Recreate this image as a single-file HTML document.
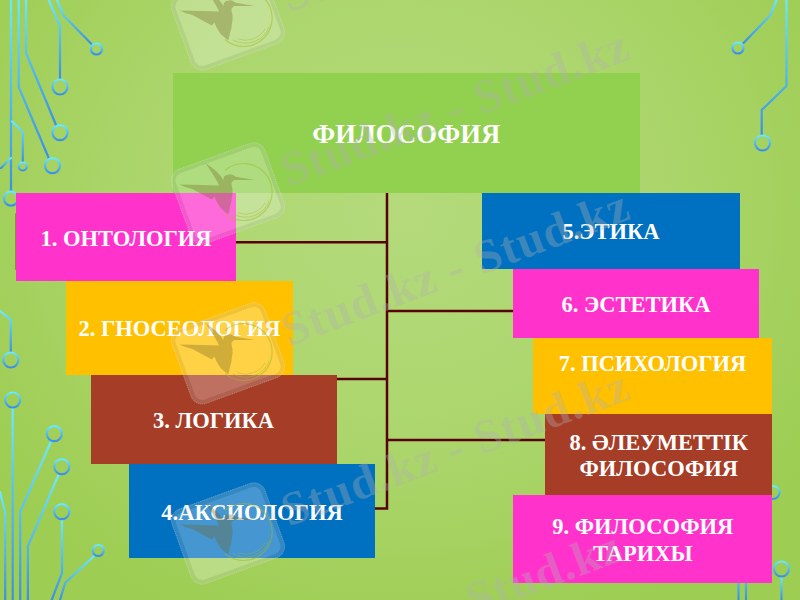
<!DOCTYPE html>
<html><head><meta charset="utf-8">
<style>
html,body{margin:0;padding:0;}
body{width:800px;height:600px;overflow:hidden;position:relative;font-family:"Liberation Serif",serif;
background:radial-gradient(ellipse 62% 75% at 50% 35%, #b4da7c 0%, #acd66d 50%, #9dcd52 100%);}
.b{position:absolute;color:#fff;font-weight:bold;font-size:22.5px;display:flex;align-items:center;justify-content:center;text-align:center;line-height:26.67px;white-space:nowrap;}
svg{position:absolute;left:0;top:0;}
</style></head><body>
<svg id="circ" width="800" height="600" viewBox="0 0 800 600">
<defs>
<linearGradient id="p0" gradientUnits="userSpaceOnUse" x1="0" y1="0" x2="0" y2="191"><stop offset="0" stop-color="#6be9ff"/><stop offset="1" stop-color="#3b8fe6"/></linearGradient>
<linearGradient id="p1" gradientUnits="userSpaceOnUse" x1="0" y1="158" x2="0" y2="168"><stop offset="0" stop-color="#6be9ff"/><stop offset="1" stop-color="#3b8fe6"/></linearGradient>
<linearGradient id="p2" gradientUnits="userSpaceOnUse" x1="0" y1="0" x2="0" y2="158"><stop offset="0" stop-color="#6be9ff"/><stop offset="1" stop-color="#3b8fe6"/></linearGradient>
<linearGradient id="p3" gradientUnits="userSpaceOnUse" x1="0" y1="0" x2="0" y2="125"><stop offset="0" stop-color="#6be9ff"/><stop offset="1" stop-color="#3b8fe6"/></linearGradient>
<linearGradient id="p4" gradientUnits="userSpaceOnUse" x1="0" y1="0" x2="0" y2="78.5"><stop offset="0" stop-color="#6be9ff"/><stop offset="1" stop-color="#3b8fe6"/></linearGradient>
<linearGradient id="p5" gradientUnits="userSpaceOnUse" x1="0" y1="0" x2="0" y2="44"><stop offset="0" stop-color="#6be9ff"/><stop offset="1" stop-color="#3b8fe6"/></linearGradient>
<linearGradient id="p6" gradientUnits="userSpaceOnUse" x1="0" y1="121.5" x2="0" y2="161.5"><stop offset="0" stop-color="#6be9ff"/><stop offset="1" stop-color="#3b8fe6"/></linearGradient>
<linearGradient id="p7" gradientUnits="userSpaceOnUse" x1="0" y1="0" x2="0" y2="43.5"><stop offset="0" stop-color="#6be9ff"/><stop offset="1" stop-color="#3b8fe6"/></linearGradient>
<linearGradient id="p8" gradientUnits="userSpaceOnUse" x1="0" y1="0" x2="0" y2="135"><stop offset="0" stop-color="#6be9ff"/><stop offset="1" stop-color="#3b8fe6"/></linearGradient>
<linearGradient id="p9" gradientUnits="userSpaceOnUse" x1="0" y1="311" x2="0" y2="352"><stop offset="0" stop-color="#6be9ff"/><stop offset="1" stop-color="#3b8fe6"/></linearGradient>
<linearGradient id="p10" gradientUnits="userSpaceOnUse" x1="0" y1="408" x2="0" y2="600"><stop offset="0" stop-color="#6be9ff"/><stop offset="1" stop-color="#3b8fe6"/></linearGradient>
<linearGradient id="p11" gradientUnits="userSpaceOnUse" x1="0" y1="441.5" x2="0" y2="600"><stop offset="0" stop-color="#6be9ff"/><stop offset="1" stop-color="#3b8fe6"/></linearGradient>
<linearGradient id="p12" gradientUnits="userSpaceOnUse" x1="0" y1="475" x2="0" y2="600"><stop offset="0" stop-color="#6be9ff"/><stop offset="1" stop-color="#3b8fe6"/></linearGradient>
<linearGradient id="p13" gradientUnits="userSpaceOnUse" x1="0" y1="520" x2="0" y2="600"><stop offset="0" stop-color="#6be9ff"/><stop offset="1" stop-color="#3b8fe6"/></linearGradient>
<linearGradient id="p14" gradientUnits="userSpaceOnUse" x1="0" y1="555.7" x2="0" y2="600"><stop offset="0" stop-color="#6be9ff"/><stop offset="1" stop-color="#3b8fe6"/></linearGradient>
<linearGradient id="p15" gradientUnits="userSpaceOnUse" x1="0" y1="492" x2="0" y2="600"><stop offset="0" stop-color="#6be9ff"/><stop offset="1" stop-color="#3b8fe6"/></linearGradient>
<linearGradient id="p16" gradientUnits="userSpaceOnUse" x1="0" y1="577" x2="0" y2="600"><stop offset="0" stop-color="#6be9ff"/><stop offset="1" stop-color="#3b8fe6"/></linearGradient>
<linearGradient id="p17" gradientUnits="userSpaceOnUse" x1="0" y1="560" x2="0" y2="600"><stop offset="0" stop-color="#6be9ff"/><stop offset="1" stop-color="#3b8fe6"/></linearGradient>
<linearGradient id="p18" gradientUnits="userSpaceOnUse" x1="0" y1="560" x2="0" y2="600"><stop offset="0" stop-color="#6be9ff"/><stop offset="1" stop-color="#3b8fe6"/></linearGradient>
<linearGradient id="gc" x1="0" y1="0" x2="0" y2="1"><stop offset="0" stop-color="#6be9ff"/><stop offset="1" stop-color="#3b8fe6"/></linearGradient>
</defs>
<g fill="none" stroke-width="2.2" stroke-linecap="round" stroke-linejoin="round">
<path d="M11 0 L11 191" stroke="url(#p0)"/>
<path d="M11 158 L1 168" stroke="url(#p1)"/>
<path d="M18.7 0 L18.7 87 L48.7 158" stroke="url(#p2)"/>
<path d="M26 0 L26 53 L56 125" stroke="url(#p3)"/>
<path d="M48.7 0 L60 26 L60 78.5" stroke="url(#p4)"/>
<path d="M57 0 L63.7 15.7 L91.5 44" stroke="url(#p5)"/>
<path d="M12 121.5 L22.8 132 L22.8 161.5" stroke="url(#p6)"/>
<path d="M776.7 0 L770 15.7 L743 43.5" stroke="url(#p7)"/>
<path d="M786.5 0 L786.5 86 L761.7 110 L761.7 135" stroke="url(#p8)"/>
<path d="M0 311 L10.8 320 L10.8 352" stroke="url(#p9)"/>
<path d="M12.7 408 L12.7 600" stroke="url(#p10)"/>
<path d="M51 441.5 L20.2 511.7 L20.2 600" stroke="url(#p11)"/>
<path d="M58.5 475 L27.9 546.2 L27.9 600" stroke="url(#p12)"/>
<path d="M62 520 L62 573 L51.7 600" stroke="url(#p13)"/>
<path d="M94.5 555.7 L65.2 582.7 L60 600" stroke="url(#p14)"/>
<path d="M0 492 L5.2 512.5 L5.2 600" stroke="url(#p15)"/>
<path d="M781.5 577 L781.5 600" stroke="url(#p16)"/>
<path d="M738.5 560 L738.5 600" stroke="url(#p17)"/>
<path d="M746 560 L746 600" stroke="url(#p18)"/>
<circle cx="11" cy="198.7" r="7" stroke="url(#gc)"/>
<circle cx="52.5" cy="165.7" r="7.5" stroke="url(#gc)"/>
<circle cx="60" cy="132.7" r="7.5" stroke="url(#gc)"/>
<circle cx="60" cy="87" r="7.5" stroke="url(#gc)"/>
<circle cx="96.5" cy="49" r="5.5" stroke="url(#gc)"/>
<circle cx="22.8" cy="166.5" r="4" stroke="url(#gc)"/>
<circle cx="738" cy="48" r="5.5" stroke="url(#gc)"/>
<circle cx="762.5" cy="143" r="7.5" stroke="url(#gc)"/>
<circle cx="10.8" cy="360" r="7.5" stroke="url(#gc)"/>
<circle cx="12.7" cy="400" r="7.5" stroke="url(#gc)"/>
<circle cx="54.3" cy="433.7" r="7.5" stroke="url(#gc)"/>
<circle cx="61.8" cy="466.7" r="7.5" stroke="url(#gc)"/>
<circle cx="61.8" cy="511.7" r="7.5" stroke="url(#gc)"/>
<circle cx="98.2" cy="550.5" r="5.5" stroke="url(#gc)"/>
<circle cx="773" cy="492.5" r="6.5" stroke="url(#gc)"/>
<circle cx="781.5" cy="569" r="7.5" stroke="url(#gc)"/>
</g>
</svg>

<div class="b" style="left:173px;top:73px;width:466.5px;height:120px;background:#92d050;font-size:26.7px;"><span style="position:relative;left:0px;top:1px">ФИЛОСОФИЯ</span></div>

<svg width="800" height="600" viewBox="0 0 800 600">
<g stroke="#580303" stroke-width="2.5" fill="none">
<path d="M387 193V508.6H375"/>
<path d="M236 242.3H387"/>
<path d="M337 379H387"/>
<path d="M387 311H513"/>
<path d="M387 440H545"/>
<path d="M15.9 213.5V270" stroke-width="1" stroke-opacity="0.55"/>
</g>
</svg>

<div class="b" style="left:16px;top:193px;width:220px;height:88px;background:#ff33cc;"><span style="position:relative;left:0px;top:2px">1. ОНТОЛОГИЯ</span></div>
<div class="b" style="left:66px;top:281px;width:227px;height:94px;background:#ffc000;"><span style="position:relative;left:0px;top:1.5px">2. ГНОСЕОЛОГИЯ</span></div>
<div class="b" style="left:91px;top:375px;width:246px;height:89px;background:#a63d27;"><span style="position:relative;left:-0.5px;top:1.5px">3. ЛОГИКА</span></div>
<div class="b" style="left:129px;top:464px;width:246px;height:94px;background:#0070c0;"><span style="position:relative;left:0px;top:2px">4.АКСИОЛОГИЯ</span></div>

<div class="b" style="left:482px;top:193px;width:258px;height:75.5px;background:#0070c0;"><span style="position:relative;left:0px;top:2px">5.ЭТИКА</span></div>
<div class="b" style="left:513px;top:268.5px;width:246px;height:69.5px;background:#ff33cc;"><span style="position:relative;left:0px;top:2px">6. ЭСТЕТИКА</span></div>
<div class="b" style="left:532.5px;top:338px;width:239px;height:76px;background:#ffc000;"><span style="position:relative;left:0.5px;top:-11.5px">7. ПСИХОЛОГИЯ</span></div>
<div class="b" style="left:545px;top:413.5px;width:226.5px;height:81.5px;background:#a63d27;"><span style="position:relative;left:0.5px;top:2px">8. ӘЛЕУМЕТТІК<br>ФИЛОСОФИЯ</span></div>
<div class="b" style="left:513px;top:495px;width:258.5px;height:88px;background:#ff33cc;"><span style="position:relative;left:0.5px;top:2px">9. ФИЛОСОФИЯ<br>ТАРИХЫ</span></div>

<svg id="wm" width="800" height="600" viewBox="0 0 800 600" style="pointer-events:none">
<defs>
<g id="tile">
 <g transform="rotate(-20)">
  <rect x="-47.5" y="-36" width="95" height="75" rx="10" fill="none" stroke="rgba(200,205,200,0.26)" stroke-width="4"/>
  <rect x="-45.5" y="-34" width="91" height="71" rx="8" fill="rgba(255,255,255,0.27)"/>
  <rect x="-49.5" y="-38" width="99" height="79" rx="12" fill="none" stroke="rgba(255,255,255,0.45)" stroke-width="0.6" stroke-dasharray="1 1"/>
  <text x="59" y="16" transform="rotate(-0.5 59 16)" font-family="Liberation Serif, serif" font-weight="bold" font-size="47.5" letter-spacing="1.15" fill="rgba(178,178,178,0.34)">Stud.kz - Stud.kz</text>
 </g>
 <path d="M27.3 -12.1 L8.1 -15.2 Q5 -18 1.7 -17.6 Q-2.5 -17.5 -3.5 -15.2 L-4.2 -12.1 Q-9 -21 -21.8 -28.6 Q-15 -19 -10.2 -10.2 L-8.4 -6.6 L-25.8 -7.1 L-47.8 -7.5 Q-41 -4 -35 -2.9 Q-28 1 -23.1 3.5 L-15.7 7.5 L-13 4.4 Q-12 7 -11.2 9 Q-9 13 -6.6 16.3 Q-3 20 0.8 22.2 Q2 18 2.6 14.5 Q4.5 9 4.4 5.3 Q5.5 1 5 -2.9 Q4 -6 3.9 -9 Q5 -11 6.8 -11.9 Z" fill="rgba(112,100,32,0.33)"/>
 <g fill="none" stroke="rgba(160,185,40,0.5)" stroke-linecap="round">
  <path d="M-2 -22 A28.5 28.5 0 1 1 -2 22" stroke-width="1.2"/>
  <path d="M41.7 8.9 A25 25 0 0 1 5.7 22" stroke-width="0.9"/>
  <path d="M37.3 11.3 A22 22 0 0 1 10.7 21" stroke-width="0.8"/>
 </g>
</g>
</defs>
<use href="#tile" x="227.5" y="18"/>
<use href="#tile" x="227.5" y="192"/>
<use href="#tile" x="227.5" y="352"/>
<use href="#tile" x="227.5" y="532"/>
<use href="#tile" x="220" y="693"/>
</svg>
</body></html>
